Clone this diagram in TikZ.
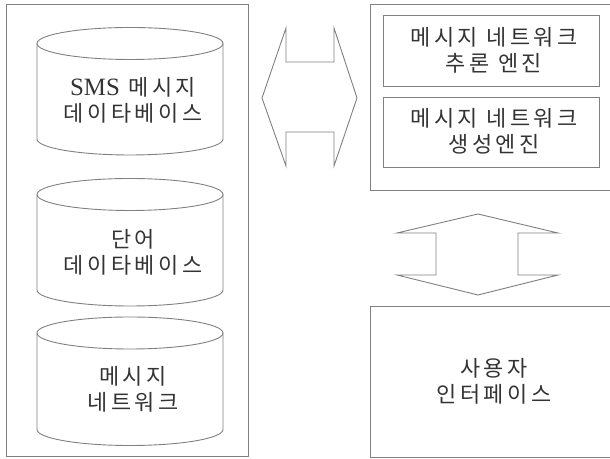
\documentclass[tikz,border=0pt]{standalone}
\usepackage{fontspec}
\newfontfamily\kr[LetterSpace=16]{Noto Sans CJK KR}
\newfontfamily\lat{Liberation Serif}
\definecolor{linegray}{HTML}{808080}
\definecolor{txtgray}{HTML}{333333}
\tikzset{
  ln/.style={draw=linegray, line width=0.9bp},
  lbl/.style={font=\kr\fontsize{22}{26}\selectfont, text=txtgray, align=center, inner sep=0pt},
  box/.style={ln, fill=none},
}
\begin{document}
\begin{tikzpicture}[x=1bp,y=1bp]
\useasboundingbox (0,0) rectangle (610,459);
% left frame
\draw[box] (6,3) rectangle (248,455);
% cylinders
\foreach \yt/\yb in {415.5/320, 264.5/169, 126/29.5}{
  \draw[ln] (37,\yt) -- (37,\yb) arc[start angle=180,end angle=360,x radius=93,y radius=16] -- (223,\yt);
  \draw[ln] (130,\yt) ellipse [x radius=93, y radius=16];
}
\node[lbl] (smsdb) at (133,359) {{\lat\fontsize{25}{26}\selectfont SMS} 메시지\\데이타베이스};
\node[lbl] (worddb) at (133,207) {단어\\데이타베이스};
\node[lbl] (msgnet) at (133,69.5) {메시지\\네트워크};
% right top frame
\draw[box] (370,269) rectangle (611,455);
\draw[box] (383,373) rectangle (599,444);
\draw[box] (383,292) rectangle (599,362);
\node[lbl] (infer) at (494,409) {메시지 네트워크\\추론 엔진};
\node[lbl] (gen) at (494,328) {메시지 네트워크\\생성엔진};
% user interface
\draw[box] (370,2) rectangle (611,153);
\node[lbl] (ui) at (494,77.5) {사용자\\인터페이스};
% horizontal double arrow
\coordinate (hl) at (262,361);
\coordinate (hr) at (357,361);
\draw[ln, line join=miter] (286,431) -- (286,397) -- (334,397) -- (334,431) -- (hr) -- (334,293) -- (334,327) -- (286,327) -- (286,293) -- (hl) -- cycle;
% vertical double arrow
\coordinate (vt) at (478,245);
\coordinate (vb) at (478,164);
\draw[ln, line join=miter] (vt) -- (558,226) -- (518,226) -- (518,184) -- (558,184) -- (vb) -- (397,184) -- (436,184) -- (436,226) -- (397,226) -- cycle;
\end{tikzpicture}
\end{document}
